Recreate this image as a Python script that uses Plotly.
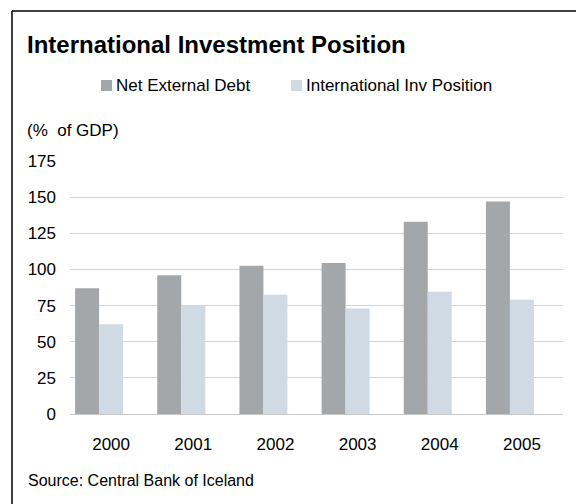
import plotly.graph_objects as go

# Data (% of GDP)
years = ["2000", "2001", "2002", "2003", "2004", "2005"]
net_external_debt = [87, 96, 102.5, 104.5, 133, 147]
intl_inv_position = [62, 75, 82.5, 73, 84.5, 79]
y_ticks = [0, 25, 50, 75, 100, 125, 150, 175]

W, H = 576, 504
L, R, T, B = 70, 13, 161, 90
FONT = "Liberation Sans, Arial, sans-serif"
DARK = "#A4A7AA"
LIGHT = "#CFDAE4"

plot_w = W - L - R
plot_h = H - T - B


def px(x):
    """Pixel x -> paper x."""
    return (x - L) / plot_w


def py(y):
    """Pixel y (from top) -> paper y."""
    return (H - B - y) / plot_h


fig = go.Figure()
fig.add_trace(go.Bar(
    x=years, y=net_external_debt, name="Net External Debt",
    marker=dict(color=DARK, line=dict(width=0)),
    width=0.292, offset=-0.438, showlegend=False,
))
fig.add_trace(go.Bar(
    x=years, y=intl_inv_position, name="International Inv Position",
    marker=dict(color=LIGHT, line=dict(width=0)),
    width=0.292, offset=-0.146, showlegend=False,
))

shapes = [
    # frame (left and top edges)
    dict(type="line", xref="paper", yref="paper", x0=px(12), x1=px(12),
         y0=py(11), y1=py(H + 5), line=dict(color="#000000", width=1.5)),
    dict(type="line", xref="paper", yref="paper", x0=px(12), x1=px(W + 5),
         y0=py(11), y1=py(11), line=dict(color="#000000", width=1.5)),
    # legend swatches
    dict(type="rect", xref="paper", yref="paper", x0=px(101), x1=px(112),
         y0=py(91), y1=py(80), fillcolor=DARK, line=dict(width=0)),
    dict(type="rect", xref="paper", yref="paper", x0=px(291), x1=px(302),
         y0=py(91), y1=py(80), fillcolor=LIGHT, line=dict(width=0)),
]

annotations = [
    dict(text="Net External Debt", x=px(114), y=py(85.5), xref="paper", yref="paper",
         xanchor="left", yanchor="middle", showarrow=False,
         font=dict(family=FONT, size=17, color="#000000")),
    dict(text="International Inv Position", x=px(304), y=py(85.5), xref="paper", yref="paper",
         xanchor="left", yanchor="middle", showarrow=False,
         font=dict(family=FONT, size=17, color="#000000")),
    dict(text="(%\u00a0 of GDP)", x=px(25), y=py(130), xref="paper", yref="paper",
         xanchor="left", yanchor="middle", showarrow=False,
         font=dict(family=FONT, size=17, color="#000000")),
    dict(text="Source: Central Bank of Iceland", x=px(26), y=py(480), xref="paper", yref="paper",
         xanchor="left", yanchor="middle", showarrow=False,
         font=dict(family=FONT, size=16, color="#000000")),
]

fig.update_layout(
    width=W, height=H,
    margin=dict(l=L, r=R, t=T, b=B, pad=0),
    paper_bgcolor="#FFFFFF", plot_bgcolor="#FFFFFF",
    barmode="group",
    title=dict(text="International Investment Position",
               x=27 / W, xref="container", xanchor="left",
               y=1 - 45 / H, yref="container", yanchor="middle",
               font=dict(family=FONT, size=24, color="#000000", weight="bold")),
    shapes=shapes,
    annotations=annotations,
    xaxis=dict(type="category", range=[-0.5, 5.5], showgrid=False, zeroline=False,
               showline=False, ticks="", ticklabelstandoff=18,
               tickfont=dict(family=FONT, size=17, color="#000000")),
    yaxis=dict(range=[0, 175], tickvals=y_ticks, showgrid=True, gridcolor="#D3D3D3",
               gridwidth=1.2, zeroline=True, zerolinecolor="#C8C8C8", zerolinewidth=1.2,
               showline=False, ticks="", ticklabelstandoff=13,
               tickfont=dict(family=FONT, size=17, color="#000000")),
)

fig.write_html("out.html")
